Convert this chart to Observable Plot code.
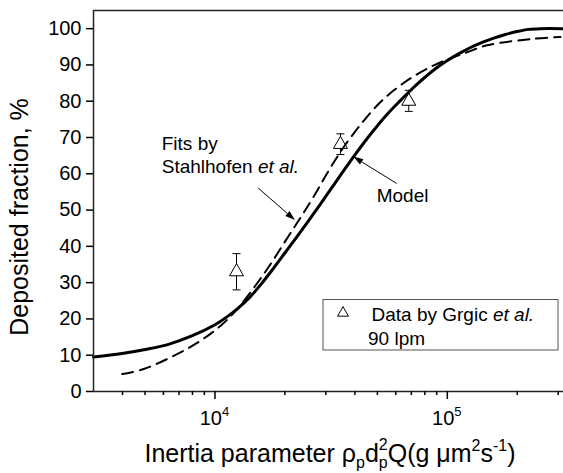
<!DOCTYPE html>
<html><head><meta charset="utf-8">
<script src="https://cdn.jsdelivr.net/npm/d3@7"></script>
<script src="https://cdn.jsdelivr.net/npm/@observablehq/plot@0.6"></script>
<style>
body{margin:0;background:#fff}
#chart svg{font-family:"Liberation Sans",Arial,sans-serif;}
</style>
</head><body><div id="chart"></div>
<script>
// Model curve (solid)
const modelX = [3000, 3981, 5012, 6310, 7943, 10000, 11220, 12590, 14130, 15850, 17780, 19950, 22390, 25120, 28180, 31620, 35480, 39810, 44670, 50120, 56230, 63100, 70790, 79430, 89130, 100000, 112200, 125900, 141300, 158500, 177800, 199500, 223900, 251200, 316000];
const modelY = [9.5, 10.5, 11.6, 13.0, 15.3, 18.4, 20.5, 23.0, 26.0, 29.7, 33.8, 38.1, 42.4, 46.8, 51.3, 55.9, 60.5, 65.0, 69.3, 73.3, 77.0, 80.3, 83.5, 86.4, 89.0, 91.2, 93.1, 94.8, 96.2, 97.4, 98.4, 99.2, 99.8, 100, 100];
// Fits by Stahlhofen et al. (dashed)
const fitX = [3990, 4940, 6870, 8670, 10570, 12450, 16480, 20800, 23280, 26240, 31480, 36390, 43650, 50700, 58880, 71780, 87500, 100000, 121600, 148300, 235000, 306900];
const fitY = [4.8, 6.2, 10.3, 14.0, 18.1, 22.7, 33.0, 43.0, 47.8, 53.1, 61.8, 68.0, 74.6, 79.3, 83.0, 86.9, 89.9, 91.5, 93.5, 95.4, 97.2, 97.7];
// Data by Grgic et al., 90 lpm
const dataX = [12380, 34670, 68230];
const dataY = [33.0, 68.1, 80.0];
const dataLo = [28.0, 65.3, 77.2];
const dataHi = [38.0, 71.0, 83.0];
// axes
const yTicks = [0, 10, 20, 30, 40, 50, 60, 70, 80, 90, 100];
const xMajor = [1e4, 1e5];
const xMajorExp = ["4", "5"];
const xMinor = [4000, 5000, 6000, 7000, 8000, 9000, 20000, 30000, 40000, 50000, 60000, 70000, 80000, 90000, 200000, 300000];
const xDomain = [3000, 316228];
const yDomain = [0, 105];
// annotations (data units)
const fitsLabel = {x: 5930, y1: 66.4, y2: 60.1};
const modelLabel = {x: 49900, y: 52.2};
const arrowFits = {x1: 15440, y1: 55.9, x2: 22200, y2: 47.1};
const arrowModel = {x1: 60800, y1: 57.2, x2: 39540, y2: 64.6};

const model = modelX.map((x, i) => ({x, y: modelY[i]}));
const fit = fitX.map((x, i) => ({x, y: fitY[i]}));
const pts = dataX.map((x, i) => ({x, y: dataY[i], lo: dataLo[i], hi: dataHi[i]}));

const capSymbol = {draw(ctx, size) { const w = Math.sqrt(size); ctx.moveTo(-w / 2, 0); ctx.lineTo(w / 2, 0); }};

const chart = Plot.plot({
  width: 563, height: 473,
  marginLeft: 93, marginRight: 0, marginTop: 10, marginBottom: 82,
  style: {fontFamily: "Liberation Sans, Arial, sans-serif", fontSize: "20px", background: "white", overflow: "visible"},
  x: {type: "log", domain: xDomain},
  y: {domain: yDomain},
  marks: [
    Plot.ruleX(pts, {x: "x", y1: "lo", y2: "hi", stroke: "black", strokeWidth: 1}),
    Plot.dot(pts, {x: "x", y: "lo", symbol: capSymbol, r: 4.5, stroke: "black", strokeWidth: 1}),
    Plot.dot(pts, {x: "x", y: "hi", symbol: capSymbol, r: 4.5, stroke: "black", strokeWidth: 1}),
    Plot.dot(pts, {x: "x", y: "y", symbol: "triangle", r: 5.2, stroke: "black", fill: "white", strokeWidth: 1}),
    Plot.line(fit, {x: "x", y: "y", curve: "catmull-rom", stroke: "black", strokeWidth: 2, strokeDasharray: "11,7"}),
    Plot.line(model, {x: "x", y: "y", curve: "catmull-rom", stroke: "black", strokeWidth: 3}),
    Plot.ruleY([yDomain[0]], {stroke: "#222", strokeWidth: 1.5}),
    Plot.ruleY([yDomain[1]], {stroke: "#222", strokeWidth: 1.5}),
    Plot.ruleX([xDomain[0]], {stroke: "#222", strokeWidth: 1.5}),
    Plot.axisY({ticks: yTicks, tickSize: 7, tickPadding: 5, label: null, fontSize: 20, strokeWidth: 1.5}),
    Plot.axisX({ticks: xMajor, tickSize: 8, tickFormat: () => "", label: null, strokeWidth: 1.5}),
    Plot.axisX({ticks: xMinor, tickSize: 4, tickFormat: () => "", label: null, strokeWidth: 1.5})
  ]
});
document.getElementById("chart").appendChild(chart);

const sx = v => chart.scale("x").apply(v);
const sy = v => chart.scale("y").apply(v);
const svg = d3.select(chart);
const g = svg.append("g").attr("font-family", "Liberation Sans, Arial, sans-serif").attr("fill", "black").attr("text-anchor", "start");

// x tick labels 10^4, 10^5
xMajor.forEach((v, i) => {
  const t = g.append("text").attr("x", sx(v)).attr("y", 425).attr("text-anchor", "middle").attr("font-size", 20);
  t.append("tspan").text("10");
  t.append("tspan").attr("dy", -9).attr("font-size", 13).text(xMajorExp[i]);
});

// x label
const xl = g.append("text").attr("x", 330).attr("y", 462).attr("text-anchor", "middle").attr("font-size", 25);
xl.append("tspan").text("Inertia parameter ρ");
xl.append("tspan").attr("font-size", 16).attr("dy", 6).text("p");
xl.append("tspan").attr("dy", -6).text("d");
xl.append("tspan").attr("font-size", 16).attr("dy", 6).text("p");
xl.append("tspan").attr("font-size", 16).attr("dx", -8.9).attr("dy", -18).text("2");
xl.append("tspan").attr("dy", 12).text("Q(g μm");
xl.append("tspan").attr("font-size", 16).attr("dy", -11).text("2");
xl.append("tspan").attr("dy", 11).text("s");
xl.append("tspan").attr("font-size", 16).attr("dy", -11).text("-1");
xl.append("tspan").attr("dy", 11).text(")");

// y label
g.append("text").attr("transform", "translate(28,217) rotate(-90)").attr("text-anchor", "middle")
  .attr("font-size", 25).text("Deposited fraction, %");

// annotations
g.append("text").attr("x", sx(fitsLabel.x)).attr("y", sy(fitsLabel.y1)).attr("font-size", 19).text("Fits by");
const st = g.append("text").attr("x", sx(fitsLabel.x)).attr("y", sy(fitsLabel.y2)).attr("font-size", 19);
st.append("tspan").text("Stahlhofen ");
st.append("tspan").attr("font-style", "italic").text("et al.");
g.append("text").attr("x", sx(modelLabel.x)).attr("y", sy(modelLabel.y)).attr("font-size", 19).text("Model");

function arrow(a) {
  const x1 = sx(a.x1), y1 = sy(a.y1), x2 = sx(a.x2), y2 = sy(a.y2);
  const ang = Math.atan2(y2 - y1, x2 - x1), L = 10, W = 3.2;
  const bx = x2 - L * Math.cos(ang), by = y2 - L * Math.sin(ang);
  g.append("line").attr("x1", x1).attr("y1", y1).attr("x2", bx).attr("y2", by).attr("stroke", "black").attr("stroke-width", 1);
  const px = -Math.sin(ang) * W, py = Math.cos(ang) * W;
  g.append("path").attr("d", `M${x2},${y2}L${bx + px},${by + py}L${bx - px},${by - py}Z`).attr("fill", "black");
}
arrow(arrowFits);
arrow(arrowModel);

// legend
const lg = g.append("g");
lg.append("rect").attr("x", 323).attr("y", 299.5).attr("width", 235).attr("height", 50.5)
  .attr("fill", "white").attr("stroke", "#555").attr("stroke-width", 1);
lg.append("path").attr("transform", "translate(343,313)").attr("d", d3.symbol(d3.symbolTriangle, 52)())
  .attr("fill", "none").attr("stroke", "black").attr("stroke-width", 1);
const lt = lg.append("text").attr("x", 371.5).attr("y", 320.5).attr("font-size", 19);
lt.append("tspan").text("Data by Grgic ");
lt.append("tspan").attr("font-style", "italic").text("et al.");
lg.append("text").attr("x", 368).attr("y", 345).attr("font-size", 19).text("90 lpm");
</script>
</body></html>
